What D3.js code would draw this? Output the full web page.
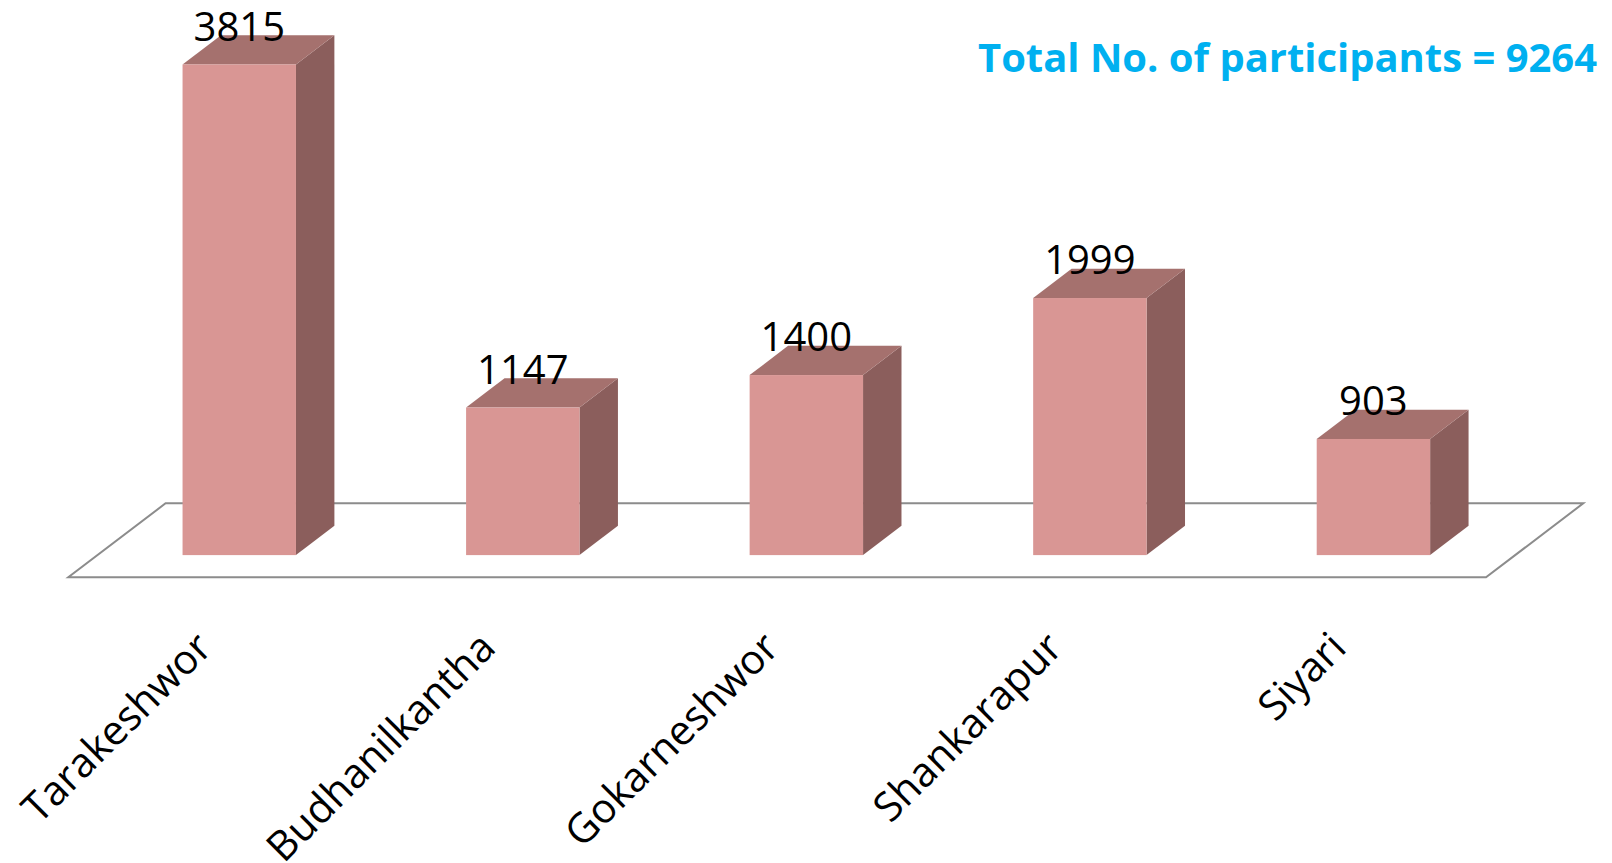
<!DOCTYPE html>
<html>
<head>
<meta charset="utf-8">
<script src="https://cdn.jsdelivr.net/npm/d3@7"></script>
<style>
  body { margin: 0; background: #fff; }
  svg { display: block; }
</style>
</head>
<body>
<svg class="chart"></svg>
<script>
const categories = ['Tarakeshwor', 'Budhanilkantha', 'Gokarneshwor', 'Shankarapur', 'Siyari']
const participants = [3815, 1147, 1400, 1999, 903]
const totalLabel = 'Total No. of participants = 9264'

const width = 1612
const height = 863

const svg = d3.select('.chart')
    .attr('width', width)
    .attr('height', height)

// floor plane: front edge, plus a depth vector going back and to the right
const floorY = 577.3
const depth = { dx: 97.3, dy: -74 }
const zFront = 0.3
const zBack = 0.695

const xScale = d3.scaleBand()
    .domain(categories)
    .range([68.3, 1486])
    .paddingInner(0.6)
    .paddingOuter(0.3)

const hScale = d3.scaleLinear()
    .domain([0, 4000])
    .range([0, 514.4])

const pt = (x, z, h) => [x + z * depth.dx, floorY + z * depth.dy - h]

// floor
const [x0, x1] = xScale.range()
const floor = [pt(x0, 0, 0), pt(x1, 0, 0), pt(x1, 1, 0), pt(x0, 1, 0)]
svg.append('polygon')
    .attr('points', floor.map(p => p.join(',')).join(' '))
    .attr('fill', 'none')
    .attr('stroke', '#8c8c8c')
    .attr('stroke-width', 2)

// bars
const bars = svg.selectAll('.bar')
    .data(categories.map((c, i) => ({ c, v: participants[i] })))
    .enter()
    .append('g')
    .attr('class', 'bar')

const bw = xScale.bandwidth()

bars.append('polygon') // side
    .attr('points', d => {
        const x = xScale(d.c) + bw, h = hScale(d.v)
        return [pt(x, zFront, 0), pt(x, zBack, 0), pt(x, zBack, h), pt(x, zFront, h)].map(p => p.join(',')).join(' ')
    })
    .attr('fill', '#8b5e5c')

bars.append('polygon') // top
    .attr('points', d => {
        const x = xScale(d.c), h = hScale(d.v)
        return [pt(x, zFront, h), pt(x + bw, zFront, h), pt(x + bw, zBack, h), pt(x, zBack, h)].map(p => p.join(',')).join(' ')
    })
    .attr('fill', '#a5716e')

bars.append('rect') // front
    .attr('x', d => pt(xScale(d.c), zFront, 0)[0])
    .attr('y', d => pt(0, zFront, hScale(d.v))[1])
    .attr('width', bw)
    .attr('height', d => hScale(d.v))
    .attr('fill', '#d99694')

// value labels
bars.append('text')
    .attr('x', d => pt(xScale(d.c) + bw / 2, zFront, 0)[0])
    .attr('y', d => pt(0, zFront, hScale(d.v))[1] - 24)
    .attr('text-anchor', 'middle')
    .style('font-family', '"Open Sans", sans-serif')
    .style('font-size', '40px')
    .attr('fill', '#000')
    .text(d => d.v)

// category labels, rotated
svg.selectAll('.cat')
    .data(categories)
    .enter()
    .append('text')
    .attr('class', 'cat')
    .attr('transform', d => `translate(${xScale(d) + bw / 2 + 4},650) rotate(-45)`)
    .attr('text-anchor', 'end')
    .style('font-family', '"Open Sans", sans-serif')
    .style('font-size', '41px')
    .attr('fill', '#000')
    .text(d => d)

// total
svg.append('text')
    .attr('x', 1597)
    .attr('y', 72)
    .attr('text-anchor', 'end')
    .attr('textLength', 619)
    .attr('lengthAdjust', 'spacingAndGlyphs')
    .style('font-family', '"Open Sans", sans-serif')
    .style('font-size', '39px')
    .style('font-weight', 'bold')
    .attr('fill', '#00b0f0')
    .text(totalLabel)
</script>
</body>
</html>
